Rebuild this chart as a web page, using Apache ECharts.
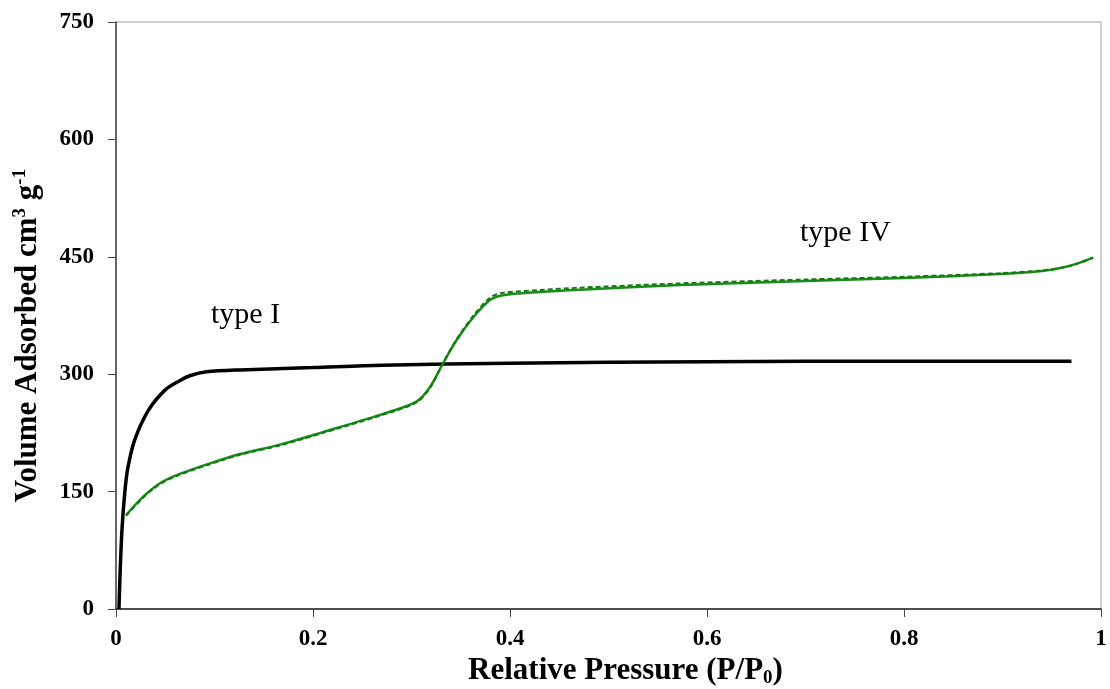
<!DOCTYPE html>
<html>
<head>
<meta charset="utf-8">
<script src="https://cdn.jsdelivr.net/npm/echarts@6/dist/echarts.min.js"></script>
<style>
  html, body { margin: 0; padding: 0; background: #fff; }
  #chart { width: 1110px; height: 689px; }
</style>
</head>
<body>
<div id="chart"></div>
<script>
// x ticks / y ticks
const xTicks = [0, 0.2, 0.4, 0.6, 0.8, 1];
const yTicks = [0, 150, 300, 450, 600, 750];

// type I isotherm (black)
const typeIP = [0.003, 0.004, 0.006, 0.009, 0.012, 0.019, 0.033, 0.05, 0.065, 0.075, 0.092, 0.126, 0.2, 0.27, 0.4, 0.6, 0.8, 0.97];
const typeIV = [0, 40, 100, 150, 180, 216, 254, 280, 292, 298, 303, 305.5, 308.5, 311.5, 314, 316, 316.5, 316.5];

// type IV isotherm (green), adsorption + desorption (dashed)
const typeIVP = [0.0102, 0.0277, 0.0447, 0.0616, 0.0954, 0.126, 0.1665, 0.21, 0.268, 0.305, 0.319, 0.332, 0.346, 0.363, 0.38, 0.393, 0.43, 0.471, 0.573, 0.7, 0.8, 0.897, 0.94, 0.96, 0.975, 0.992];
const typeIVAds = [120, 143.5, 160.6, 171, 186, 198, 210, 226, 248, 265, 284, 314, 344, 373, 395, 401, 405, 408, 414, 419, 423, 428, 432, 436, 441, 449];
const typeIVDes = [119, 142.5, 159.5, 170, 185, 197, 209, 225, 247, 264, 283, 314, 345, 375, 398, 404, 407.5, 410.5, 416, 421, 424.5, 429, 432.5, 436, 441, 449];

const typeIData = typeIP.map((p, i) => [p, typeIV[i]]);
const adsData = typeIVP.map((p, i) => [p, typeIVAds[i]]);
const desData = typeIVP.map((p, i) => [p, typeIVDes[i]]);

const FONT = 'Liberation Serif';
const myChart = echarts.init(document.getElementById('chart'));

myChart.setOption({
  backgroundColor: '#fff',
  animation: false,
  grid: {
    show: true,
    left: 116,
    right: 9,
    top: 22,
    bottom: 80,
    outerBoundsMode: 'none',
    containLabel: false,
    borderColor: '#a0a0a0',
    borderWidth: 1
  },
  xAxis: {
    type: 'value',
    min: xTicks[0],
    max: xTicks[xTicks.length - 1],
    interval: 0.2,
    name: '{b|Relative Pressure (P/P}{s|0}{b|)}',
    nameLocation: 'middle',
    nameGap: 44,
    nameTextStyle: {
      padding: [0, 0, 0, 34],
      rich: {
        b: { fontFamily: FONT, fontWeight: 'bold', fontSize: 31, color: '#000' },
        s: { fontFamily: FONT, fontWeight: 'bold', fontSize: 19, color: '#000', padding: [14, 0, 0, 0] }
      }
    },
    axisLine: { show: true, lineStyle: { color: '#222', width: 1.5 } },
    axisTick: { show: true, length: 8, lineStyle: { color: '#444', width: 1 } },
    axisLabel: { fontFamily: FONT, fontWeight: 'bold', fontSize: 23, color: '#000', margin: 19 },
    splitLine: { show: false }
  },
  yAxis: {
    type: 'value',
    min: yTicks[0],
    max: yTicks[yTicks.length - 1],
    interval: 150,
    name: '{b|Volume Adsorbed cm}{p|3}{b| g}{p|-1}',
    nameLocation: 'middle',
    nameGap: 72,
    nameRotate: 90,
    nameTextStyle: {
      padding: [0, 40, 0, 0],
      rich: {
        b: { fontFamily: FONT, fontWeight: 'bold', fontSize: 31, color: '#000' },
        p: { fontFamily: FONT, fontWeight: 'bold', fontSize: 19, color: '#000', padding: [0, 0, 14, 0] }
      }
    },
    axisLine: { show: true, lineStyle: { color: '#444', width: 1.5 } },
    axisTick: { show: true, length: 8, lineStyle: { color: '#444', width: 1 } },
    axisLabel: { fontFamily: FONT, fontWeight: 'bold', fontSize: 23, color: '#000', margin: 22 },
    splitLine: { show: false }
  },
  series: [
    {
      name: 'type I',
      type: 'line',
      data: typeIData,
      showSymbol: false,
      smooth: 0.3,
      lineStyle: { color: '#000', width: 3.5 },
      z: 3
    },
    {
      name: 'type IV ads',
      type: 'line',
      data: adsData,
      showSymbol: false,
      smooth: 0.3,
      lineStyle: { color: '#1a8c1a', width: 2.5 },
      z: 4
    },
    {
      name: 'type IV des',
      type: 'line',
      data: desData,
      showSymbol: false,
      smooth: 0.3,
      lineStyle: { color: '#137a13', width: 2, type: [5, 3] },
      z: 5
    }
  ],
  graphic: [
    {
      type: 'text', left: 211, top: 300,
      style: { text: 'type I', fontFamily: FONT, fontSize: 30, fill: '#000' }
    },
    {
      type: 'text', left: 800, top: 218,
      style: { text: 'type IV', fontFamily: FONT, fontSize: 30, fill: '#000' }
    }
  ]
});
</script>
</body>
</html>
